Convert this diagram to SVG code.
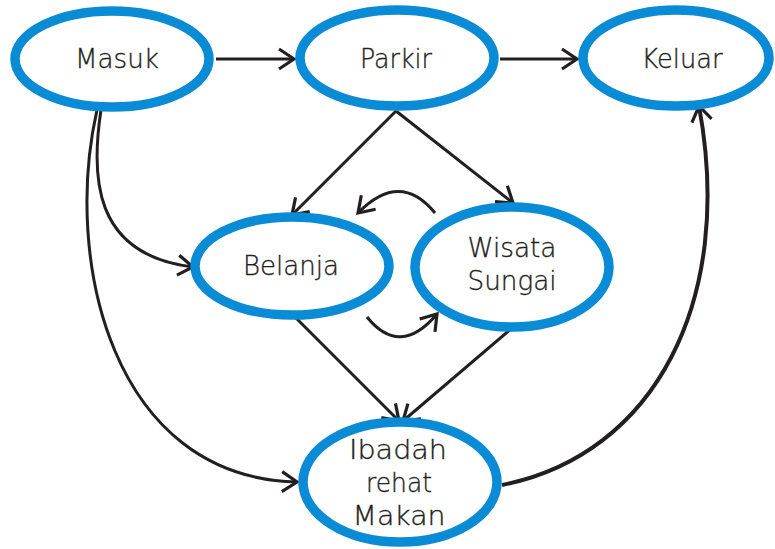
<svg xmlns="http://www.w3.org/2000/svg" width="775" height="549" viewBox="0 0 775 549">
  <style>
    .node ellipse { fill: #ffffff; stroke: #0a8bd6; stroke-width: 9.5; }
    .node text { font-family: "DejaVu Sans", "Liberation Sans", Arial, sans-serif; font-weight: 200; font-size: 27px; fill: #231f20; stroke: #231f20; stroke-width: 0.35; text-anchor: middle; }
    .edge { fill: none; stroke: #231f20; stroke-width: 3; marker-end: url(#arrow); }
  </style>
  <defs>
    <marker id="arrow" markerUnits="userSpaceOnUse" viewBox="0 0 20 24" markerWidth="20" markerHeight="24" refX="17" refY="12" orient="auto">
      <path d="M2,2 L17,12 L2,22" fill="none" stroke="#231f20" stroke-width="3.2"/>
    </marker>
  </defs>
  <rect width="775" height="549" fill="#ffffff"/>

  <g id="connectors">
    <line class="edge" x1="216" y1="59" x2="294" y2="59"/>
    <line class="edge" x1="500" y1="59" x2="577" y2="59"/>
    <line class="edge" x1="396" y1="111" x2="292" y2="215"/>
    <line class="edge" x1="396" y1="111" x2="513" y2="203"/>
    <path class="edge" d="M101,110 C91,175 92,255 193,267"/>
    <path class="edge" d="M97,110 C63,260 112,478 297,482"/>
    <line class="edge" x1="293" y1="315" x2="399" y2="421"/>
    <line class="edge" x1="512" y1="328" x2="403" y2="421"/>
    <path class="edge" d="M502,485 C655,455 735,300 699,106" style="stroke-width:4"/>
    <path class="edge" d="M435,213 Q400,170 358,213"/>
    <path class="edge" d="M367,317 Q400,358 437,314"/>
  </g>

  <g id="masuk" class="node">
    <ellipse cx="112" cy="59" rx="97" ry="48"/>
    <text x="117" y="68" textLength="84" lengthAdjust="spacingAndGlyphs">Masuk</text>
  </g>
  <g id="parkir" class="node">
    <ellipse cx="397" cy="58" rx="97" ry="48"/>
    <text x="396" y="68" textLength="72" lengthAdjust="spacingAndGlyphs">Parkir</text>
  </g>
  <g id="keluar" class="node">
    <ellipse cx="676" cy="58" rx="93" ry="48"/>
    <text x="682" y="68" textLength="81" lengthAdjust="spacingAndGlyphs">Keluar</text>
  </g>
  <g id="belanja" class="node">
    <ellipse cx="292" cy="266" rx="97" ry="49"/>
    <text x="291" y="275" textLength="96" lengthAdjust="spacingAndGlyphs">Belanja</text>
  </g>
  <g id="wisata-sungai" class="node">
    <ellipse cx="512" cy="267" rx="97" ry="60"/>
    <text x="512" y="257" textLength="89" lengthAdjust="spacingAndGlyphs">Wisata</text>
    <text x="512" y="290" textLength="89" lengthAdjust="spacingAndGlyphs">Sungai</text>
  </g>
  <g id="ibadah" class="node">
    <ellipse cx="400" cy="482" rx="97" ry="60"/>
    <text x="398" y="459" textLength="98" lengthAdjust="spacingAndGlyphs">Ibadah</text>
    <text x="399" y="492" textLength="66" lengthAdjust="spacingAndGlyphs">rehat</text>
    <text x="399" y="525" textLength="93" lengthAdjust="spacingAndGlyphs">Makan</text>
  </g>
</svg>
